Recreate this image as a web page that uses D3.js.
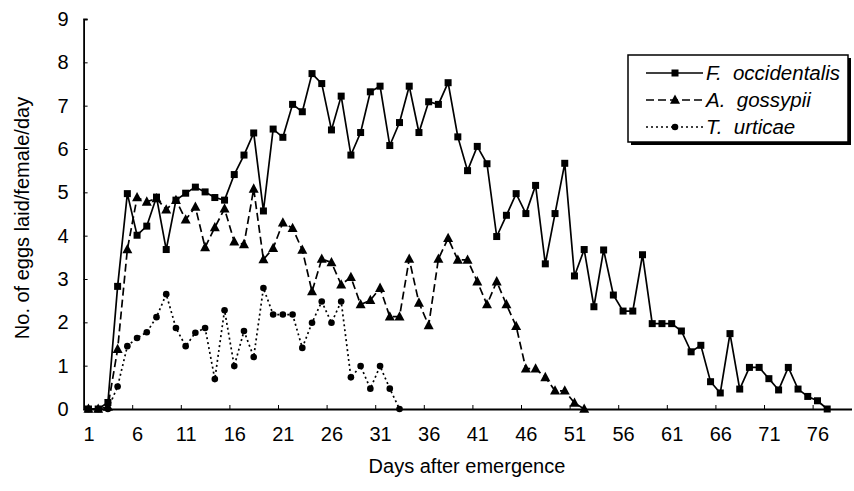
<!DOCTYPE html>
<html>
<head>
<meta charset="utf-8">
<script src="https://cdn.jsdelivr.net/npm/d3@7"></script>
<style>
  html, body { margin: 0; padding: 0; background: #fff; }
  svg { display: block; }
  text { font-family: "Liberation Sans", Arial, Helvetica, sans-serif; fill: #000; }
</style>
</head>
<body>
<svg id="chart" width="854" height="491"></svg>
<script>
// ---- data ----
const fOccidentalis = [0, 0, 0.15, 2.83, 4.97, 4.01, 4.22, 4.89, 3.68, 4.82,
  4.98, 5.12, 5.01, 4.88, 4.82, 5.41, 5.86, 6.37, 4.57, 6.46,
  6.27, 7.03, 6.86, 7.74, 7.51, 6.44, 7.22, 5.86, 6.38, 7.32,
  7.45, 6.08, 6.61, 7.45, 6.38, 7.09, 7.03, 7.53, 6.28, 5.50,
  6.06, 5.66, 3.98, 4.47, 4.97, 4.51, 5.16, 3.35, 4.51, 5.67,
  3.07, 3.68, 2.36, 3.67, 2.63, 2.26, 2.26, 3.56, 1.97, 1.97,
  1.97, 1.80, 1.32, 1.47, 0.63, 0.37, 1.74, 0.46, 0.96, 0.96,
  0.70, 0.44, 0.96, 0.46, 0.29, 0.19, 0];
const aGossypii = [0, 0, 0.05, 1.38, 3.68, 4.88, 4.78, 4.86, 4.60, 4.82,
  4.37, 4.66, 3.73, 4.19, 4.62, 3.86, 3.80, 5.08, 3.45, 3.71,
  4.30, 4.17, 3.67, 2.71, 3.46, 3.38, 2.87, 3.04, 2.41, 2.51,
  2.79, 2.13, 2.13, 3.46, 2.45, 1.93, 3.46, 3.94, 3.44, 3.44,
  2.94, 2.41, 2.94, 2.41, 1.91, 0.93, 0.93, 0.73, 0.42, 0.42,
  0.14, 0];
const tUrticae = [0, 0, 0, 0.52, 1.45, 1.64, 1.77, 2.12, 2.65, 1.87,
  1.45, 1.76, 1.87, 0.69, 2.28, 0.99, 1.80, 1.20, 2.79, 2.18,
  2.18, 2.18, 1.41, 1.99, 2.48, 1.99, 2.48, 0.73, 0.99, 0.47,
  0.99, 0.47, 0];
const seriesNames = ["F.  occidentalis", "A.  gossypii", "T.  urticae"];
const xTickLabels = [1, 6, 11, 16, 21, 26, 31, 36, 41, 46, 51, 56, 61, 66, 71, 76];
const yTickLabels = [0, 1, 2, 3, 4, 5, 6, 7, 8, 9];
const xTitle = "Days after emergence";
const yTitle = "No. of eggs laid/female/day";

// ---- layout ----
const svg = d3.select("#chart");
const x = d3.scaleLinear().domain([0.5, 79.5]).range([83.6, 851.5]);
const y = d3.scaleLinear().domain([0, 9]).range([409, 19]);

const series = [
  { name: seriesNames[0], values: fOccidentalis, dash: null, marker: "square" },
  { name: seriesNames[1], values: aGossypii, dash: "8,4", marker: "triangle" },
  { name: seriesNames[2], values: tUrticae, dash: "2,3", marker: "circle" }
];

// ---- axes ----
const yAxis = d3.axisLeft(y).tickValues(yTickLabels).tickFormat(d3.format("d"))
  .tickSizeInner(-4).tickSizeOuter(-4).tickPadding(15);
const gy = svg.append("g").attr("transform", `translate(${x.range()[0]},0)`).call(yAxis);
gy.selectAll("text").attr("font-size", 20).attr("font-family", '"Liberation Sans", Arial, sans-serif');

const xTickMarks = d3.range(0, 16).map(k => 5.5 + 5 * k);
const xAxisTicks = d3.axisBottom(x).tickValues(xTickMarks).tickFormat("")
  .tickSizeInner(-4).tickSizeOuter(0);
const gxt = svg.append("g").attr("transform", `translate(0,${y(0)})`).call(xAxisTicks);

const xAxisLabels = d3.axisBottom(x).tickValues(xTickLabels).tickFormat(d3.format("d"))
  .tickSizeInner(0).tickSizeOuter(0).tickPadding(18);
const gxl = svg.append("g").attr("transform", `translate(0,${y(0)})`).call(xAxisLabels);
gxl.select(".domain").remove();
gxl.selectAll("text").attr("font-size", 20).attr("font-family", '"Liberation Sans", Arial, sans-serif');

[gy, gxt].forEach(g => {
  g.select(".domain").attr("stroke", "#000").attr("stroke-width", 1.8);
  g.selectAll(".tick line").attr("stroke", "#000").attr("stroke-width", 1);
});

// ---- titles ----
svg.append("text").attr("x", 467).attr("y", 473).attr("text-anchor", "middle")
  .attr("font-size", 20).text(xTitle);
svg.append("text").attr("transform", "translate(29,218) rotate(-90)")
  .attr("text-anchor", "middle").attr("font-size", 20).text(yTitle);

// ---- markers ----
function drawMarker(g, type, cx, cy) {
  if (type === "square") {
    g.append("rect").attr("x", cx - 3.5).attr("y", cy - 3.5).attr("width", 7).attr("height", 7).attr("fill", "#000");
  } else if (type === "triangle") {
    g.append("path").attr("d", `M${cx},${cy - 5.5}L${cx + 5},${cy + 3.8}L${cx - 5},${cy + 3.8}Z`).attr("fill", "#000");
  } else {
    g.append("circle").attr("cx", cx).attr("cy", cy).attr("r", 3.3).attr("fill", "#000");
  }
}

const line = d3.line().x((d, i) => x(i + 1)).y(d => y(d));
const plot = svg.append("g");
// draw in back-to-front order: T. urticae, A. gossypii, F. occidentalis
[2, 1, 0].forEach(si => {
  const s = series[si];
  const g = plot.append("g");
  g.append("path").datum(s.values).attr("d", line)
    .attr("fill", "none").attr("stroke", "#000").attr("stroke-width", 1.7)
    .attr("stroke-dasharray", s.dash);
  s.values.forEach((v, i) => drawMarker(g, s.marker, x(i + 1), y(v)));
});

// ---- legend ----
const lg = svg.append("g");
const lx = 628, ly = 55, lw = 220, lh = 87;
lg.append("rect").attr("x", lx + 3).attr("y", ly + 3).attr("width", lw).attr("height", lh).attr("fill", "#000");
lg.append("rect").attr("x", lx).attr("y", ly).attr("width", lw).attr("height", lh)
  .attr("fill", "#fff").attr("stroke", "#000").attr("stroke-width", 1.5);
series.forEach((s, i) => {
  const ry = 73 + i * 27;
  lg.append("line").attr("x1", 646).attr("x2", 703).attr("y1", ry).attr("y2", ry)
    .attr("stroke", "#000").attr("stroke-width", 1.4).attr("stroke-dasharray", s.dash);
  drawMarker(lg, s.marker, 675, ry);
  lg.append("text").attr("x", 706).attr("y", ry + 7).attr("font-size", 20.5)
    .attr("font-style", "italic").style("white-space", "pre").text(s.name);
});
</script>
</body>
</html>
